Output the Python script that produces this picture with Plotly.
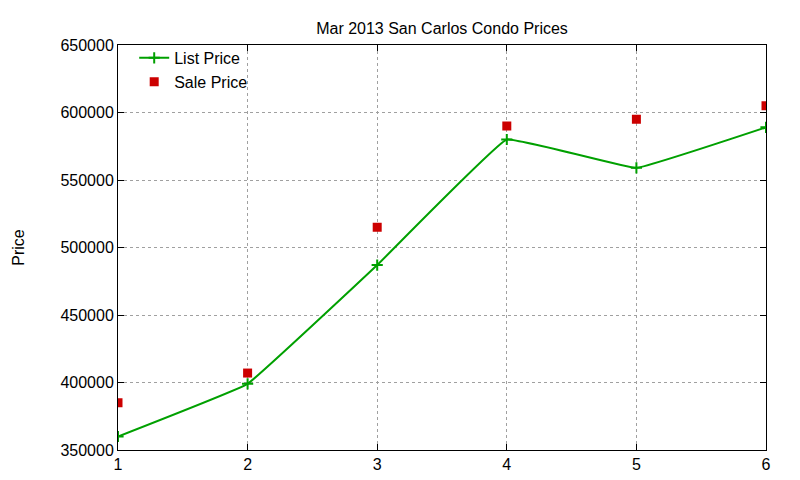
import plotly.graph_objects as go

# Mar 2013 San Carlos condo listings
x_idx = [1, 2, 3, 4, 5, 6]
list_price = [360000, 399000, 487000, 580000, 559000, 589000]
sale_price = [385000, 407000, 515000, 590000, 595000, 605000]

y_ticks = [350000, 400000, 450000, 500000, 550000, 600000, 650000]

GREEN = '#00a000'
RED = '#cc0000'
FONT = 'Liberation Sans, Arial, sans-serif'

fig = go.Figure()

fig.add_trace(go.Scatter(
    x=x_idx, y=list_price,
    name='List Price',
    mode='lines+markers',
    line={'color': GREEN, 'width': 2, 'shape': 'spline', 'smoothing': 0.2},
    marker={'symbol': 'cross-thin', 'size': 8, 'line': {'color': GREEN, 'width': 2}},
))
fig.add_trace(go.Scatter(
    x=x_idx, y=sale_price,
    name='Sale Price',
    mode='markers',
    marker={'symbol': 'square', 'size': 9, 'color': RED},
))

axis_common = dict(
    showline=True, linecolor='black', linewidth=1, mirror='ticks',
    ticks='inside', ticklen=6, tickcolor='black',
    showgrid=True, gridcolor='#a0a0a0', griddash='dot', gridwidth=1,
    zeroline=False,
    tickfont={'size': 16, 'color': 'black', 'family': FONT},
)

# page body adds ~8px offset, so margins are shifted to compensate
fig.update_layout(
    width=800, height=480,
    paper_bgcolor='white', plot_bgcolor='white',
    margin={'l': 110, 'r': 42, 't': 37, 'b': 38},
    font={'family': FONT, 'size': 16, 'color': 'black'},
    title={
        'text': 'Mar 2013 San Carlos Condo Prices',
        'x': 0.5425, 'xanchor': 'center',
        'y': 0.957, 'yanchor': 'middle',
        'font': {'size': 16, 'family': FONT},
    },
    xaxis=dict(axis_common, range=[1, 6], tickvals=x_idx),
    yaxis=dict(axis_common, range=[350000, 650000], tickvals=y_ticks,
               tickformat='d'),
    legend={
        'x': 0.025, 'y': 1.01, 'xanchor': 'left', 'yanchor': 'top',
        'bgcolor': 'rgba(0,0,0,0)', 'font': {'size': 16, 'family': FONT},
        'tracegroupgap': 0,
    },
    annotations=[{
        'text': 'Price', 'textangle': -90, 'showarrow': False,
        'xref': 'paper', 'yref': 'paper',
        'x': -0.154, 'y': 0.5, 'xanchor': 'center', 'yanchor': 'middle',
        'font': {'size': 16, 'family': FONT},
    }],
)

fig.write_html('out.html')
